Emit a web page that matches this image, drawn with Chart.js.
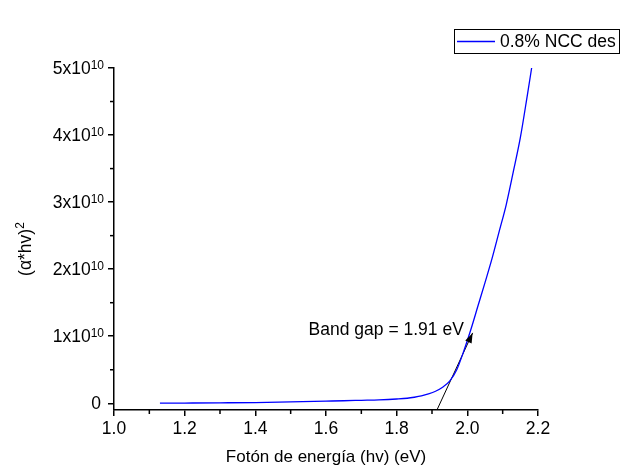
<!DOCTYPE html>
<html>
<head>
<meta charset="utf-8">
<script src="https://cdn.jsdelivr.net/npm/chart.js@4.4.0/dist/chart.umd.min.js"></script>
<style>
html, body { margin: 0; padding: 0; background: #fff; }
</style>
</head>
<body>
<canvas id="chart" width="621" height="472"></canvas>
<script>
/* DATA (y in units of 10^10) */
const photonEnergy = [1.13, 1.2, 1.3, 1.4, 1.5, 1.6, 1.65, 1.7, 1.75, 1.8, 1.83, 1.85, 1.87, 1.89, 1.91, 1.93, 1.95, 1.97, 1.99, 2.01, 2.03, 2.05, 2.07, 2.09, 2.11, 2.13, 2.15, 2.17, 2.182];
const alphaHvSq = [0.002, 0.004, 0.007, 0.011, 0.02, 0.032, 0.038, 0.045, 0.052, 0.064, 0.075, 0.09, 0.11, 0.14, 0.18, 0.24, 0.33, 0.5, 0.78, 1.1, 1.45, 1.8, 2.16, 2.56, 2.96, 3.45, 3.96, 4.6, 5.0];
const xTicks = [1.0, 1.2, 1.4, 1.6, 1.8, 2.0, 2.2];
const xMinorTicks = [1.1, 1.3, 1.5, 1.7, 1.9, 2.1];
const yTicks = [0, 1, 2, 3, 4, 5];
const yMinorTicks = [0.5, 1.5, 2.5, 3.5, 4.5];
const tangentX = [1.914, 2.015];
const tangentY = [-0.1, 1.05];
const seriesLabel = "0.8% NCC des";
const gapLabel = "Band gap = 1.91 eV";
const gapLabelAt = { x: 1.99, y: 1.02 };

const FONT = "'Liberation Sans', Arial, sans-serif";

/* extra drawing: minor ticks, y labels with exponent, arrow, legend */
const extras = {
    id: "extras",
    afterDraw(chart) {
        const ctx = chart.ctx;
        const xs = chart.scales.x, ys = chart.scales.y;
        const area = chart.chartArea;
        ctx.save();
        ctx.strokeStyle = "#000";
        ctx.lineWidth = 1.5;
        xMinorTicks.forEach(v => {
            const px = xs.getPixelForValue(v);
            ctx.beginPath(); ctx.moveTo(px, area.bottom); ctx.lineTo(px, area.bottom + 4); ctx.stroke();
        });
        yMinorTicks.forEach(v => {
            const py = ys.getPixelForValue(v);
            ctx.beginPath(); ctx.moveTo(area.left - 4, py); ctx.lineTo(area.left, py); ctx.stroke();
        });

        // y tick labels  Nx10^10
        ctx.fillStyle = "#000";
        ctx.textBaseline = "alphabetic";
        const xr = area.left - 10;
        yTicks.forEach(v => {
            const py = ys.getPixelForValue(v);
            if (v === 0) {
                ctx.font = "17.5px " + FONT;
                ctx.textAlign = "right";
                ctx.fillText("0", xr - 3, py + 6);
                return;
            }
            ctx.font = "12px " + FONT;
            ctx.textAlign = "right";
            ctx.fillText("10", xr, py + 1);
            const w = ctx.measureText("10").width;
            ctx.font = "17.5px " + FONT;
            ctx.fillText(v + "x10", xr - w, py + 6);
        });

        // y title with superscript
        ctx.save();
        ctx.translate(31, ys.getPixelForValue(2.3));
        ctx.rotate(-Math.PI / 2);
        ctx.font = "17.5px " + FONT;
        const base = "(α*hv)";
        const bw = ctx.measureText(base).width;
        ctx.font = "12px " + FONT;
        const sw = ctx.measureText("2").width;
        ctx.font = "17.5px " + FONT;
        ctx.textAlign = "left";
        ctx.fillText(base, -(bw + sw) / 2, 0);
        ctx.font = "12px " + FONT;
        ctx.fillText("2", -(bw + sw) / 2 + bw, -7);
        ctx.restore();

        // arrow head on tangent
        const x0 = xs.getPixelForValue(tangentX[0]), y0 = ys.getPixelForValue(tangentY[0]);
        const x1 = xs.getPixelForValue(tangentX[1]), y1 = ys.getPixelForValue(tangentY[1]);
        const ang = Math.atan2(y1 - y0, x1 - x0);
        const len = 10, hw = 3.5;
        ctx.beginPath();
        ctx.moveTo(x1, y1);
        ctx.lineTo(x1 - len * Math.cos(ang) + hw * Math.sin(ang), y1 - len * Math.sin(ang) - hw * Math.cos(ang));
        ctx.lineTo(x1 - len * Math.cos(ang) - hw * Math.sin(ang), y1 - len * Math.sin(ang) + hw * Math.cos(ang));
        ctx.closePath();
        ctx.fill();

        // annotation
        ctx.font = "17.5px " + FONT;
        ctx.textAlign = "right";
        ctx.fillText(gapLabel, xs.getPixelForValue(gapLabelAt.x), ys.getPixelForValue(gapLabelAt.y));

        // legend box
        ctx.lineWidth = 1;
        ctx.strokeStyle = "#000";
        ctx.strokeRect(454.5, 29.5, 165, 24);
        ctx.strokeStyle = "#0000ff";
        ctx.lineWidth = 1.3;
        ctx.beginPath(); ctx.moveTo(457, 41.5); ctx.lineTo(495, 41.5); ctx.stroke();
        ctx.textAlign = "left";
        ctx.textBaseline = "middle";
        ctx.fillText(seriesLabel, 500, 42);
        ctx.restore();
    }
};

new Chart(document.getElementById("chart"), {
    type: "line",
    data: {
        datasets: [{
            label: seriesLabel,
            data: photonEnergy.map((x, i) => ({ x: x, y: alphaHvSq[i] })),
            borderColor: "#0000ff",
            borderWidth: 1.3,
            pointRadius: 0,
            cubicInterpolationMode: "monotone",
            fill: false
        }, {
            label: "tangent",
            data: tangentX.map((x, i) => ({ x: x, y: tangentY[i] })),
            borderColor: "#000",
            borderWidth: 1,
            pointRadius: 0,
            fill: false
        }]
    },
    options: {
        responsive: false,
        animation: false,
        devicePixelRatio: 1,
        layout: { padding: { left: 0, top: 68, right: 83, bottom: 0 } },
        plugins: { legend: { display: false }, tooltip: { enabled: false } },
        scales: {
            x: {
                type: "linear",
                min: 1.0,
                max: 2.2,
                afterBuildTicks: s => { s.ticks = xTicks.map(v => ({ value: v })); },
                afterFit: s => { s.height = 62; },
                ticks: {
                    callback: v => v.toFixed(1),
                    color: "#000",
                    font: { size: 17.5, family: FONT },
                    padding: 3,
                    maxRotation: 0,
                    autoSkip: false
                },
                grid: { drawOnChartArea: false, tickLength: 6, color: "#000", lineWidth: 1.5 },
                border: { color: "#000", width: 1.5 },
                title: { display: true, text: "Fotón de energía (hv) (eV)", color: "#000", font: { size: 17, family: FONT }, padding: { top: 4, bottom: 4 } }
            },
            y: {
                min: -0.1,
                max: 5,
                afterBuildTicks: s => { s.ticks = yTicks.map(v => ({ value: v })); },
                afterFit: s => { s.width = 114; },
                ticks: { display: false },
                grid: { drawOnChartArea: false, tickLength: 6, color: "#000", lineWidth: 1.5 },
                border: { color: "#000", width: 1.5 }
            }
        }
    },
    plugins: [extras]
});
</script>
</body>
</html>
